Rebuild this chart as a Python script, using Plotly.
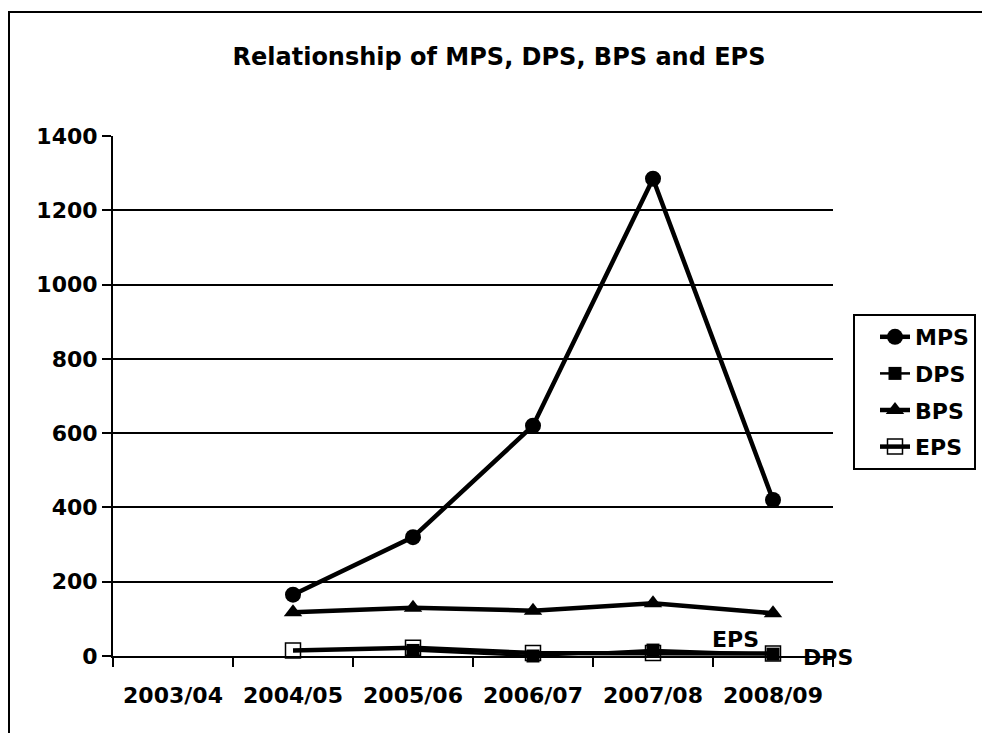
import plotly.graph_objects as go

categories = ["2003/04", "2004/05", "2005/06", "2006/07", "2007/08", "2008/09"]
mps = [None, 165, 320, 620, 1285, 420]
dps = [None, None, 15, 0, 16, 5]
bps = [None, 118, 130, 122, 142, 115]
eps = [None, 15, 22, 8, 8, 7]
y_ticks = [0, 200, 400, 600, 800, 1000, 1200, 1400]

FONT = "DejaVu Sans"
black = "#000000"

# figure coordinates (page is offset by the 8px body margin)
W, H = 982, 725
L, R, T, B = 105, 825, 128, 648
PW, PH = R - L, B - T

fig = go.Figure()
fig.add_trace(go.Scatter(x=categories, y=mps, name="MPS", mode="lines+markers",
                         line=dict(color=black, width=4.5),
                         marker=dict(symbol="circle", size=16, color=black),
                         cliponaxis=False, legendgroup="a"))
fig.add_trace(go.Scatter(x=categories, y=dps, name="DPS", mode="lines+markers",
                         line=dict(color=black, width=2.5),
                         marker=dict(symbol="square", size=13, color=black),
                         cliponaxis=False, legendgroup="b"))
fig.add_trace(go.Scatter(x=categories, y=bps, name="BPS", mode="lines+markers",
                         line=dict(color=black, width=4.5),
                         marker=dict(symbol="triangle-up", size=16, color=black),
                         cliponaxis=False, legendgroup="c"))
fig.add_trace(go.Scatter(x=categories, y=eps, name="EPS", mode="lines+markers",
                         line=dict(color=black, width=4.5),
                         marker=dict(symbol="square-open", size=15, color=black,
                                     line=dict(width=1.5, color=black)),
                         cliponaxis=False, legendgroup="d"))

fig.add_annotation(x="2008/09", y=eps[5], xref="x", yref="y", text="EPS",
                   showarrow=False, xshift=-38, yshift=14,
                   font=dict(family=FONT, size=22, color=black, weight="bold"))
fig.add_annotation(x="2008/09", y=dps[5], xref="x", yref="y", text="DPS",
                   showarrow=False, xshift=55, yshift=-3,
                   font=dict(family=FONT, size=22, color=black, weight="bold"))

# outer chart border
fig.add_shape(type="rect", xref="paper", yref="paper",
              x0=(1 - L) / PW, x1=(W + 10 - L) / PW,
              y0=(B - (H + 10)) / PH, y1=(B - 4) / PH,
              line=dict(color=black, width=2), fillcolor="rgba(0,0,0,0)", layer="below")

fig.update_layout(
    width=W, height=H,
    margin=dict(l=L, r=W - R, t=T, b=H - B),
    paper_bgcolor="white", plot_bgcolor="white",
    title=dict(text="Relationship of MPS, DPS, BPS and EPS", x=0.5, xref="container",
               y=1 - 49 / H, yref="container", xanchor="center", yanchor="middle",
               font=dict(family=FONT, size=24, color=black, weight="bold")),
    font=dict(family=FONT, color=black),
    showlegend=True,
    legend=dict(x=(845 - L) / PW, y=(B - 306) / PH, xanchor="left", yanchor="top",
                bordercolor=black, borderwidth=2, bgcolor="white",
                font=dict(family=FONT, size=22, color=black, weight="bold"),
                tracegroupgap=5, indentation=20, entrywidth=76, entrywidthmode="pixels"),
    xaxis=dict(type="category", categoryorder="array", categoryarray=categories,
               range=[-0.5, 5.5], showgrid=False, showline=True, linecolor=black,
               linewidth=2, ticks="outside", tickson="boundaries", ticklen=9,
               tickwidth=2, tickcolor=black, ticklabelstandoff=19,
               tickfont=dict(family=FONT, size=22, color=black, weight="bold"),
               zeroline=False),
    yaxis=dict(range=[0, 1400], tickvals=y_ticks, showgrid=True, gridcolor=black,
               gridwidth=2, showline=True, linecolor=black, linewidth=2,
               ticks="outside", ticklen=9, tickwidth=2, tickcolor=black,
               ticklabelstandoff=0, zeroline=False,
               tickfont=dict(family=FONT, size=22, color=black, weight="bold")),
)

fig.write_html("out.html")
